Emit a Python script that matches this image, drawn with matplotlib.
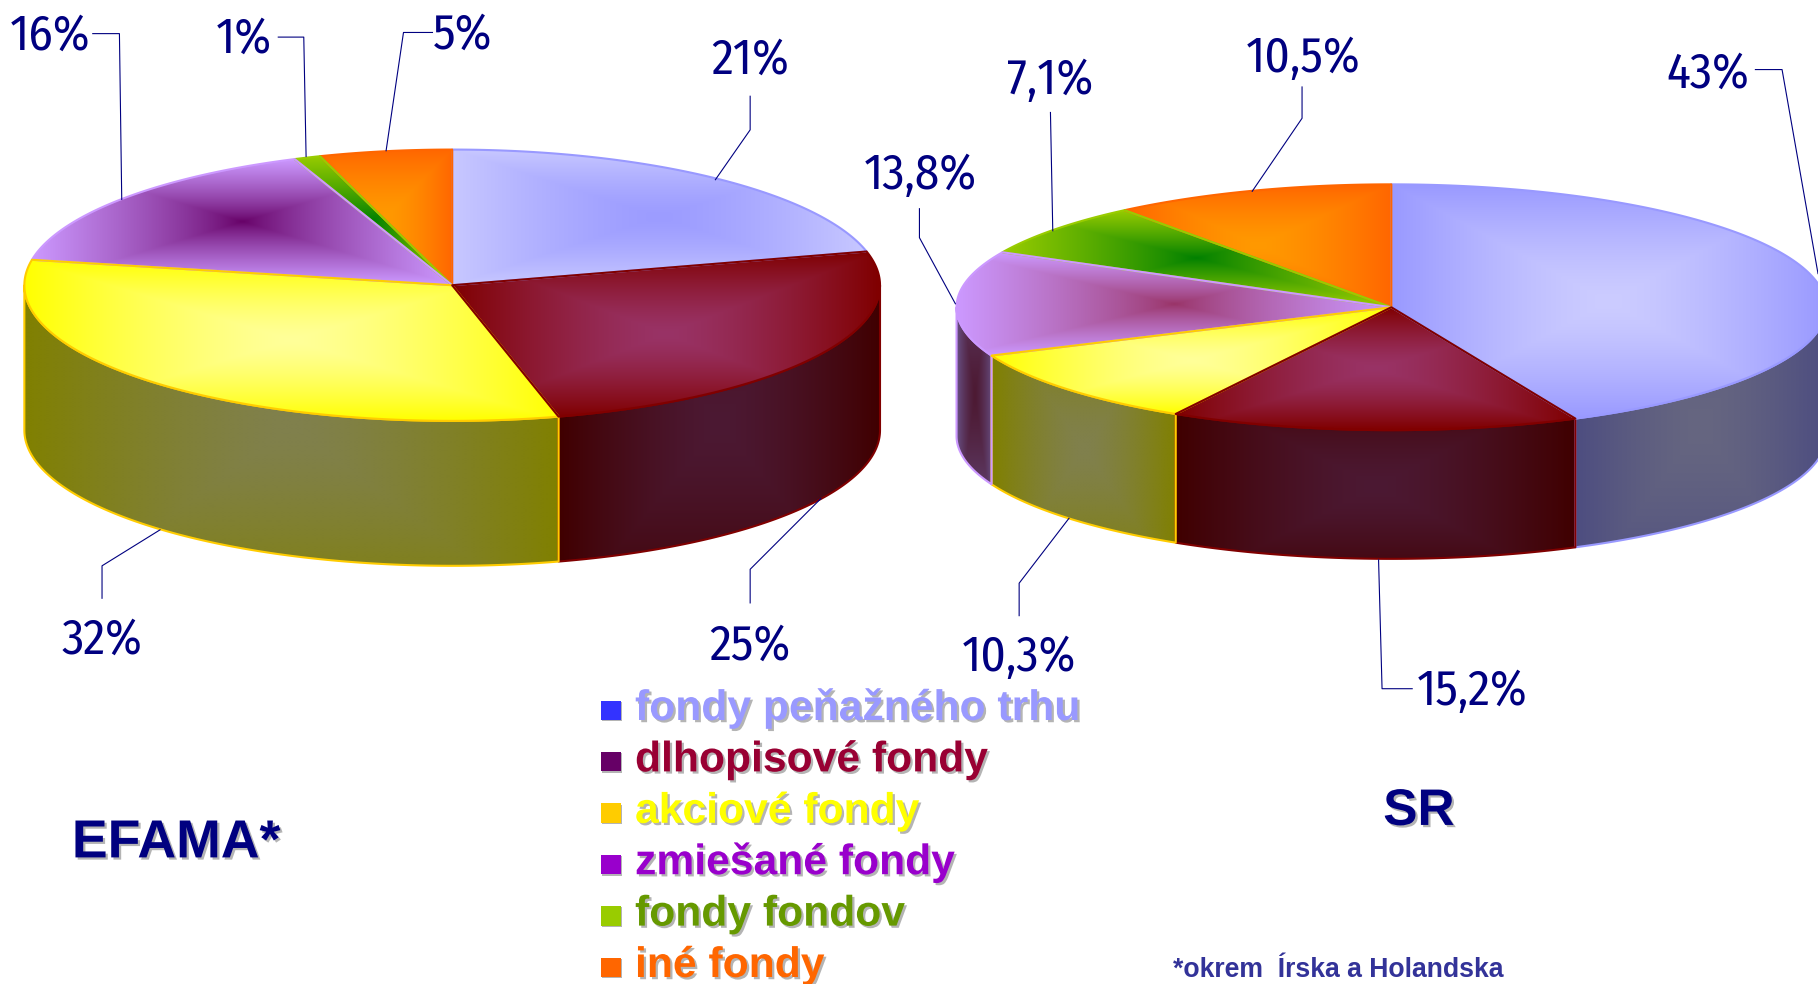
# -*- coding: utf-8 -*-
"""Two tilted pie charts of fund types (EFAMA vs SR) with legend and leader lines."""

import numpy as np
import matplotlib.pyplot as plt
import matplotlib.patheffects as pe
from matplotlib.colors import to_rgb
from matplotlib.patches import Polygon, Rectangle

# --------------------------- DATA --------------------------- #
CATEGORIES = ["fondy peňažného trhu", "dlhopisové fondy", "akciové fondy",
              "zmiešané fondy", "fondy fondov", "iné fondy"]
EFAMA_VALUES = [21, 25, 32, 16, 1, 5]
SR_VALUES = [43, 15.2, 10.3, 13.8, 7.1, 10.5]
EFAMA_LABELS = ["21%", "25%", "32%", "16%", "1%", "5%"]
SR_LABELS = ["43%", "15,2%", "10,3%", "13,8%", "7,1%", "10,5%"]

# --------------------------- STYLE --------------------------- #
W, H = 1818, 984
S = W / 1568.0
NAVY = "#000080"
NARROW = ["Fira Sans Condensed", "Liberation Sans"]
BOLD = ["Liberation Sans"]

EDGE_LINE = ["#9999FF", "#800000", "#FFCC00", "#CC99FF", "#99CC00", "#FF6600"]
EFAMA_RIM = ["#C8C8FF", "#800000", "#FFFF00", "#CC99FF", "#99CC00", "#FF6600"]
EFAMA_MID = ["#9C9CFF", "#993366", "#FFFF99", "#660066", "#008000", "#FF9900"]
SR_RIM = ["#9999FF", "#800000", "#FFFF00", "#CC99FF", "#99CC00", "#FF6600"]
SR_MID = ["#CCCCFF", "#993366", "#FFFF99", "#993366", "#008000", "#FF9900"]
SIDE_RIM = ["#4D4D80", "#400000", "#808000", "#664D80", "#4D6600", "#803300"]
SIDE_MID = ["#666680", "#4C1933", "#80804D", "#4D1A33", "#004000", "#804D00"]
EFAMA_SIDE_RIM = ["#64647F", "#400000", "#808000", "#664D80", "#4D6600", "#803300"]
TOP_POWER = [1.4, 1.4, 1.4, 0.8, 0.9, 1.4]   # how wide the middle colour spreads

LEGEND_BOX = ["#3333FF", "#660066", "#FFCC00", "#9900CC", "#99CC00", "#FF6600"]
LEGEND_TEXT = ["#9999FF", "#990033", "#FFFF00", "#9900CC", "#669900", "#FF6600"]

# centre x, centre y, radius x, radius y, depth
EFAMA_PIE = (390 * S, 246 * S, 369 * S, 117 * S, 125 * S)
SR_PIE = (1200 * S, 265 * S, 375 * S, 106 * S, 111 * S)

DRAW_ORDER = [0, 5, 4, 3, 2, 1]

# label position + leader polyline per slice
EFAMA_LEADERS = [
    ((647, 50), [(647, 83), (647, 112), (617, 155)]),
    ((647, 555), [(647, 520), (647, 491), (708, 430)]),
    ((88, 550), [(88, 516), (88, 488), (138, 457)]),
    ((43, 29), [(80, 29), (103, 29), (105, 172)]),
    ((210, 32), [(240, 32), (262, 32), (264, 135)]),
    ((399, 28), [(373, 28), (348, 28), (333, 130)]),
]
SR_LEADERS = [
    ((1473, 62), [(1514, 60), (1537, 60), (1568, 236)]),
    ((1270, 594), [(1218, 594), (1192, 594), (1189, 483)]),
    ((879, 565), [(879, 531), (879, 503), (922, 447)]),
    ((794, 149), [(793, 180), (793, 205), (824, 262)]),
    ((906, 67), [(906, 97), (908, 199)]),
    ((1124, 48), [(1123, 75), (1123, 102), (1080, 165)]),
]
# ------------------------------------------------------------ #


def arc(pie, t0, t1, drop=0.0):
    """Points on the pie rim, angles clockwise from the top, in radians."""
    cx, cy, rx, ry, _ = pie
    n = max(2, int(abs(t1 - t0) * 120))
    t = np.linspace(t0, t1, n)
    return np.column_stack([cx + rx * np.sin(t), cy - ry * np.cos(t) + drop])


def gradient_fill(ax, pts, rim, mid, line, zorder, vscale=1.0, power=1.4):
    """Rectangular path gradient over the bounding box, clipped to the polygon."""
    x0, y0 = pts.min(axis=0)
    x1, y1 = pts.max(axis=0)
    nx = max(2, int(x1 - x0))
    ny = max(2, int(y1 - y0))
    u = np.abs(np.linspace(-1, 1, nx))
    v = np.abs(np.linspace(-1, 1, ny)) * vscale
    t = np.maximum(*np.meshgrid(u, v))[..., None] ** power
    img = np.array(to_rgb(mid)) * (1 - t) + np.array(to_rgb(rim)) * t
    im = ax.imshow(img, extent=(x0, x1, y1, y0), aspect="auto",
                   interpolation="bilinear", zorder=zorder)
    clip = Polygon(pts, closed=True, transform=ax.transData)
    im.set_clip_path(clip)
    ax.add_patch(Polygon(pts, closed=True, fill=False, edgecolor=line,
                         linewidth=1.5, joinstyle="round", zorder=zorder + 0.1))


def draw_pie(ax, pie, values, rims, mids, side_rims):
    depth = pie[4]
    cx, cy = pie[0], pie[1]
    fracs = np.cumsum([0] + list(values)) / float(sum(values))
    angles = fracs * 2 * np.pi

    # sides: only the part of each slice on the near half of the rim
    for i in DRAW_ORDER:
        t0 = max(angles[i], np.pi / 2)
        t1 = min(angles[i + 1], 3 * np.pi / 2)
        if t1 <= t0:
            continue
        top = arc(pie, t0, t1)
        bottom = arc(pie, t1, t0, drop=depth)
        gradient_fill(ax, np.vstack([top, bottom]), side_rims[i], SIDE_MID[i],
                      EDGE_LINE[i], 2 + 0.01 * i, vscale=0.7)

    # top faces
    for i in DRAW_ORDER:
        pts = np.vstack([[(cx, cy)], arc(pie, angles[i], angles[i + 1])])
        gradient_fill(ax, pts, rims[i], mids[i], EDGE_LINE[i],
                      3 + 0.01 * DRAW_ORDER.index(i), power=TOP_POWER[i])


def draw_labels(ax, labels, leaders):
    for text, (pos, line) in zip(labels, leaders):
        ax.text(pos[0] * S, (pos[1] + 2) * S, text, color=NAVY, fontsize=35.5,
                family=NARROW, ha="center", va="center", zorder=6)
        xs = [p[0] * S for p in line]
        ys = [p[1] * S for p in line]
        ax.plot(xs, ys, color=NAVY, linewidth=0.8, zorder=5)


def shadow(off=1.6):
    return [pe.SimplePatchShadow(offset=(off, -off), shadow_rgbFace="#B4B4B4", alpha=1.0),
            pe.Normal()]


def main():
    fig = plt.figure(figsize=(W / 100, H / 100), dpi=100, facecolor="white")
    ax = fig.add_axes([0, 0, 1, 1])

    draw_pie(ax, EFAMA_PIE, EFAMA_VALUES, EFAMA_RIM, EFAMA_MID, EFAMA_SIDE_RIM)
    draw_pie(ax, SR_PIE, SR_VALUES, SR_RIM, SR_MID, SIDE_RIM)

    ax.set_xlim(0, W)
    ax.set_ylim(H, 0)
    ax.axis("off")

    draw_labels(ax, EFAMA_LABELS, EFAMA_LEADERS)
    draw_labels(ax, SR_LABELS, SR_LEADERS)

    # Legend
    for i, name in enumerate(CATEGORIES):
        y = 720 + i * 51.4
        ax.add_patch(Rectangle((601, y - 19.5), 20, 19.5, facecolor=LEGEND_BOX[i],
                               edgecolor="none", zorder=5,
                               path_effects=shadow(1.0)))
        ax.text(635, y, name, color=LEGEND_TEXT[i], fontsize=30.7, weight="bold",
                family=BOLD, ha="left", va="baseline", zorder=6,
                path_effects=shadow())

    ax.text(62 * S, 739.5 * S, "EFAMA*", color=NAVY, fontsize=38.6, weight="bold",
            family=BOLD, ha="left", va="baseline", path_effects=shadow())
    ax.text(1193 * S, 711.5 * S, "SR", color=NAVY, fontsize=37, weight="bold",
            family=BOLD, ha="left", va="baseline", path_effects=shadow())
    ax.text(1012 * S, 843 * S, "*okrem  Írska a Holandska", color="#333399", fontsize=19.2,
            weight="bold", family=BOLD, ha="left", va="baseline")

    fig.savefig("out.png", dpi=100, facecolor="white")
    plt.close(fig)


if __name__ == "__main__":
    main()
